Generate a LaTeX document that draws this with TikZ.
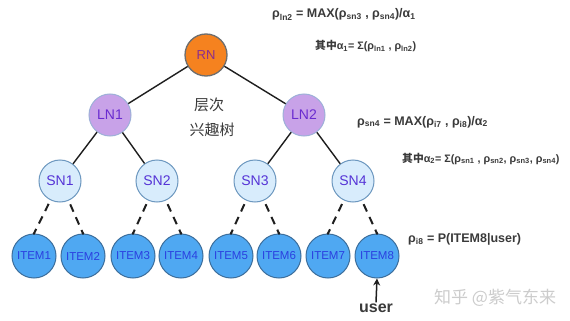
\documentclass[tikz,border=0pt]{standalone}
\usepackage{fontspec}
\setmainfont{Liberation Sans}
\newfontfamily\cjk{Noto Sans CJK SC}
\newfontfamily\cjkbold{Noto Sans CJK SC Bold}
\usetikzlibrary{arrows.meta}
\definecolor{rnfill}{HTML}{F5821F}
\definecolor{rnline}{HTML}{6E6E6E}
\definecolor{rntext}{HTML}{8A2E8E}
\definecolor{lnfill}{HTML}{C8A2E8}
\definecolor{lnline}{HTML}{9DB0D8}
\definecolor{lntext}{HTML}{6A2BD0}
\definecolor{snfill}{HTML}{D8ECFC}
\definecolor{snline}{HTML}{6C97BF}
\definecolor{sntext}{HTML}{5533D6}
\definecolor{itfill}{HTML}{4FA8F2}
\definecolor{itline}{HTML}{3C6E9C}
\definecolor{ittext}{HTML}{2A3FE0}
\definecolor{formula}{HTML}{3A3A3A}
\definecolor{edgecol}{HTML}{1E1E1E}
\newcommand{\sbs}[1]{\textsubscript{\fontsize{8.5}{8.5}\selectfont #1}}
\newcommand{\sbsm}[1]{\textsubscript{\fontsize{7.5}{7.5}\selectfont #1}}
\begin{document}
\begin{tikzpicture}[x=1pt,y=-1pt,
  treenode/.style={circle,inner sep=0pt,line width=1pt},
  rnnode/.style={treenode,fill=rnfill,draw=rnline,line width=1.3pt,minimum size=42pt,text=rntext,font=\fontsize{13}{13}\selectfont},
  lnnode/.style={treenode,fill=lnfill,draw=lnline,minimum size=42pt,text=lntext,font=\fontsize{14}{14}\selectfont},
  snnode/.style={treenode,fill=snfill,draw=snline,minimum size=42pt,text=sntext,font=\fontsize{14}{14}\selectfont},
  itnode/.style={treenode,fill=itfill,draw=itline,minimum size=44pt,text=ittext,font=\fontsize{11.5}{11.5}\selectfont},
  solidedge/.style={draw=edgecol,line width=1.4pt},
  dashedge/.style={draw=edgecol,line width=2pt,dash pattern=on 8pt off 6pt,shorten <=4pt},
  formtext/.style={anchor=base west,inner sep=0pt,text=formula,font=\fontsize{12.5}{12.5}\selectfont\bfseries},
  smalltext/.style={anchor=base west,inner sep=0pt,text=formula,font=\fontsize{10.8}{10.8}\selectfont\bfseries}
]
\useasboundingbox (0,0) rectangle (570,321);
\fill[white] (0,0) rectangle (570,321);

% nodes
\node[rnnode] (rn) at (206,55) {RN};
\node[lnnode] (ln1) at (110,115) {LN1};
\node[lnnode] (ln2) at (304,115) {LN2};
\node[snnode] (sn1) at (60,181) {SN1};
\node[snnode] (sn2) at (157,181) {SN2};
\node[snnode] (sn3) at (255,181) {SN3};
\node[snnode] (sn4) at (353,181) {SN4};
\node[itnode] (i1) at (34,256) {ITEM1};
\node[itnode] (i2) at (83,256) {ITEM2};
\node[itnode] (i3) at (133,256) {ITEM3};
\node[itnode] (i4) at (181,256) {ITEM4};
\node[itnode] (i5) at (231,256) {ITEM5};
\node[itnode] (i6) at (279,256) {ITEM6};
\node[itnode] (i7) at (328,256) {ITEM7};
\node[itnode] (i8) at (377,256) {ITEM8};

% edges
\draw[solidedge] (rn) -- (ln1);
\draw[solidedge] (rn) -- (ln2);
\draw[solidedge] (ln1) -- (sn1);
\draw[solidedge] (ln1) -- (sn2);
\draw[solidedge] (ln2) -- (sn3);
\draw[solidedge] (ln2) -- (sn4);
\foreach \s/\a/\b in {sn1/i1/i2,sn2/i3/i4,sn3/i5/i6,sn4/i7/i8}{
  \draw[dashedge] (\s) -- (\a.north);
  \draw[dashedge] (\s) -- (\b.north);
  \fill[edgecol] (\a.north) circle (1.3pt);
  \fill[edgecol] (\b.north) circle (1.3pt);
}

% central label
\node[text=formula,font=\cjk\fontsize{15}{15}\selectfont,inner sep=0pt] (lab1) at (209,105) {层次};
\node[text=formula,font=\cjk\fontsize{15}{15}\selectfont,inner sep=0pt] (lab2) at (212,130) {兴趣树};

% formulas
\node[formtext] (f1) at (272,18) {ρ\sbs{ln2} = MAX(ρ\sbs{sn3} , ρ\sbs{sn4})/α\sbs{1}};
\node[smalltext] (f2) at (315,50) {{\cjkbold 其中}α\sbsm{1}= Σ(ρ\sbsm{ln1} , ρ\sbsm{ln2})};
\node[formtext] (f3) at (357,125) {ρ\sbs{sn4} = MAX(ρ\sbs{i7} , ρ\sbs{i8})/α\sbs{2}};
\node[smalltext] (f4) at (402,162) {{\cjkbold 其中}α\sbsm{2}= Σ(ρ\sbsm{sn1} , ρ\sbsm{sn2}, ρ\sbsm{sn3}, ρ\sbsm{sn4})};
\node[formtext] (f5) at (408,242) {ρ\sbs{i8} = P(ITEM8|user)};

% user arrow
\node[text=formula,font=\fontsize{16}{16}\selectfont\bfseries,inner sep=1pt] (user) at (376,308) {user};
\draw[edgecol,line width=1.5pt,-{Stealth[length=7pt,width=7pt]}] (user.north) -- (i8.south);

% watermark
\node[text=black!20,font=\cjk\fontsize{17}{17}\selectfont,anchor=west,inner sep=0pt] (wm) at (434,298) {知乎 @紫气东来};
\end{tikzpicture}
\end{document}
